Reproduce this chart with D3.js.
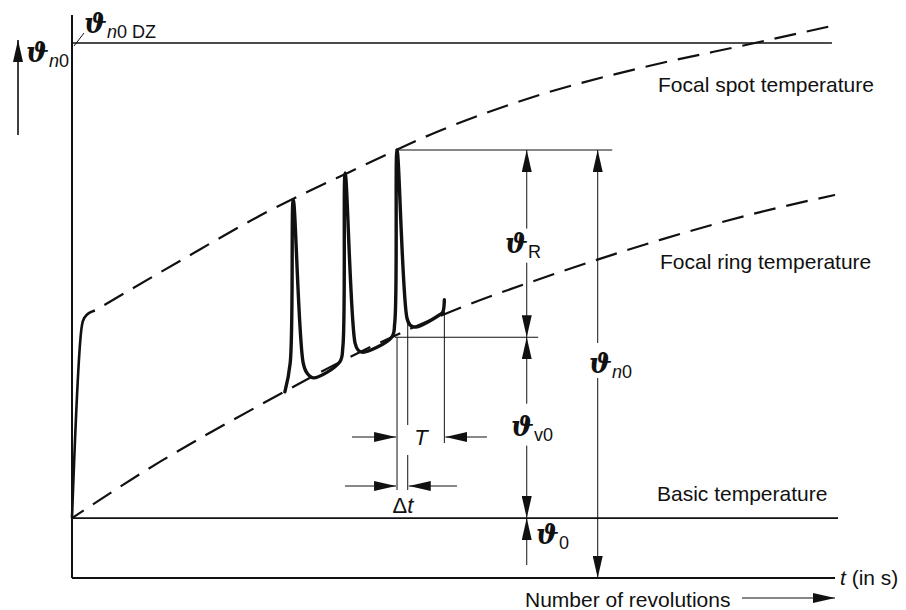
<!DOCTYPE html>
<html>
<head>
<meta charset="utf-8">
<script src="https://cdn.jsdelivr.net/npm/d3@7"></script>
<style>
  body { margin: 0; background: #fff; }
  text { font-family: "Liberation Sans", Arial, sans-serif; fill: #111; }
</style>
</head>
<body>
<script>
// time in % of the shown span, temperature in % of the DZ limit
const basicLevel = 11.2;
const dzLevel = 100;

const spotRise = [[0, 11.2], [1.3, 47.2], [1.6, 48.6], [2.2, 49.5], [3.0, 50.0]];
const spotCurve = [[3.0, 50.0], [14.2, 59.3], [24.6, 67.7], [36.4, 75.9], [48.2, 83.6],
  [61.3, 90.3], [74.4, 95.3], [89.5, 100], [99.6, 103.2]];
const ringCurve = [[0, 11.2], [11.5, 21.7], [24.6, 32.3], [37.7, 42.2], [50.9, 50.5],
  [64.0, 57.2], [77.1, 63.2], [90.2, 68.4], [100, 71.6]];

// three revolutions of the focal track
const spikes = [[27.9, 34.8], [28.6, 40.2], [29.0, 70.7], [30.3, 40.2], [30.8, 38.3], [31.6, 37.4],
  [35.1, 40.4], [35.5, 43.2], [35.8, 75.7], [37.1, 43.9], [37.5, 42.6], [38.1, 42.2],
  [41.9, 45.0], [42.3, 47.7], [42.6, 80.0], [43.9, 48.6], [44.3, 47.3], [45.0, 46.9],
  [48.2, 49.2], [48.6, 49.7], [48.8, 52.0]];

const peakLevel = 80.0;
const ringLevel = 45.0;
const tPeak = 42.6;
const tFall = 44.0;
const tNext = 48.8;
const tDim = 59.6;
const tTotal = 68.9;

const w = 906;
const h = 610;

const x = d3.scaleLinear().domain([0, 100]).range([72, 835]);
const y = d3.scaleLinear().domain([0, 100]).range([578, 43]);

const svg = d3.select("body").append("svg").attr("width", w).attr("height", h);

svg.append("defs").append("marker")
  .attr("id", "head")
  .attr("viewBox", "0 0 22 10")
  .attr("refX", 22).attr("refY", 5)
  .attr("markerWidth", 22).attr("markerHeight", 10)
  .attr("markerUnits", "userSpaceOnUse")
  .attr("orient", "auto")
  .append("path").attr("d", "M0,0L22,5L0,10Z").attr("fill", "#111");

const line = d3.line().x((d) => x(d[0])).y((d) => y(d[1]));

function seg(x1, y1, x2, y2, width, arrow) {
  const l = svg.append("line")
    .attr("x1", x1).attr("y1", y1).attr("x2", x2).attr("y2", y2)
    .attr("stroke", "#111").attr("stroke-width", width);
  if (arrow) l.attr("marker-end", "url(#head)");
  return l;
}

// axes and reference levels
seg(x(0), 15, x(0), y(0), 2);
seg(x(0), y(0), x(100), y(0), 2);
seg(x(0), y(basicLevel), x(100) + 3, y(basicLevel), 1.8);
seg(x(0), y(dzLevel), x(99.6), y(dzLevel), 1.6);

// curves
svg.append("path").datum(spotRise)
  .attr("d", line.curve(d3.curveCatmullRom.alpha(0.5)))
  .attr("fill", "none").attr("stroke", "#111").attr("stroke-width", 2.6);

svg.append("path").datum(spotCurve)
  .attr("d", line.curve(d3.curveMonotoneX))
  .attr("fill", "none").attr("stroke", "#111").attr("stroke-width", 2.2)
  .attr("stroke-dasharray", "22,11").attr("stroke-dashoffset", 22);

svg.append("path").datum(ringCurve)
  .attr("d", line.curve(d3.curveMonotoneX))
  .attr("fill", "none").attr("stroke", "#111").attr("stroke-width", 2.2)
  .attr("stroke-dasharray", "22,11").attr("stroke-dashoffset", 8);

svg.append("path").datum(spikes)
  .attr("d", line.curve(d3.curveCatmullRom.alpha(0.5)))
  .attr("fill", "none").attr("stroke", "#111").attr("stroke-width", 3.4)
  .attr("stroke-linejoin", "round").attr("stroke-linecap", "round");

// extension lines
seg(x(tPeak), y(peakLevel), x(70.8), y(peakLevel), 1);
seg(x(42.3), y(ringLevel), x(61.1), y(ringLevel), 1);
seg(x(tPeak), y(ringLevel), x(tPeak), 490, 1);
seg(x(tFall), y(48.3), x(tFall), 425, 1);
seg(x(tFall), 455, x(tFall), 490, 1);
seg(x(tNext), y(49.8), x(tNext), 443, 1);

// T and delta t arrows
seg(352, 437, x(tPeak) - 1, 437, 1, true);
seg(487, 437, x(tNext) + 1, 437, 1, true);
seg(345, 486, x(tPeak) - 1, 486, 1, true);
seg(457, 486, x(tFall) + 1, 486, 1, true);

// vertical dimension arrows
const xd = x(tDim);
const midR = (y(peakLevel) + y(ringLevel)) / 2;
seg(xd, midR - 15, xd, y(peakLevel), 1, true);
seg(xd, midR + 19, xd, y(ringLevel), 1, true);
const midV = (y(ringLevel) + y(basicLevel)) / 2;
seg(xd, midV - 24, xd, y(ringLevel), 1, true);
seg(xd, midV + 18, xd, y(basicLevel), 1, true);
seg(xd, y(0) - 13, xd, y(basicLevel), 1, true);
const xt = x(tTotal);
const midN = (y(peakLevel) + y(0)) / 2;
seg(xt, midN - 21, xt, y(peakLevel), 1, true);
seg(xt, midN + 14, xt, y(0), 1, true);

// y label arrow
seg(18, 135, 18, 40, 1.6, true);
seg(84, 33, 74, 46, 1);

// labels
function theta(px, py, subs) {
  const t = svg.append("text").attr("x", px).attr("y", py);
  t.append("tspan").text("\u03d1")
    .style("font-family", "'DejaVu Serif', serif")
    .style("font-style", "italic").style("font-weight", "bold")
    .style("font-size", "27px");
  subs.forEach((s, i) => {
    t.append("tspan").text(s[0])
      .attr("dy", i === 0 ? 5 : null)
      .style("font-size", "18px")
      .style("font-style", s[1] ? "italic" : "normal");
  });
  return t;
}

theta(26, 62, [["n", true], ["0"]]);
theta(84, 33, [["n", true], ["0 DZ"]]);
theta(505, midR + 9, [["R"]]);
theta(511, midV + 8, [["v0"]]);
theta(536, 544, [["0"]]);
theta(589, midN + 9, [["n", true], ["0"]]);

svg.append("text").attr("x", 421).attr("y", 445).attr("text-anchor", "middle")
  .style("font-size", "22px").style("font-style", "italic").text("T");
svg.append("text").attr("x", 403).attr("y", 513).attr("text-anchor", "middle")
  .style("font-size", "22px").html("\u0394<tspan font-style='italic'>t</tspan>");

svg.append("text").attr("x", 658).attr("y", 92).style("font-size", "21px").text("Focal spot temperature");
svg.append("text").attr("x", 660).attr("y", 269).style("font-size", "21px").text("Focal ring temperature");
svg.append("text").attr("x", 657).attr("y", 501).style("font-size", "21px").text("Basic temperature");
svg.append("text").attr("x", 840).attr("y", 585).style("font-size", "21px")
  .html("<tspan font-style='italic'>t</tspan> (in s)");
svg.append("text").attr("x", 525).attr("y", 607).style("font-size", "21px").text("Number of revolutions");
seg(742, 598, 835, 598, 1.2, true);
</script>
</body>
</html>
